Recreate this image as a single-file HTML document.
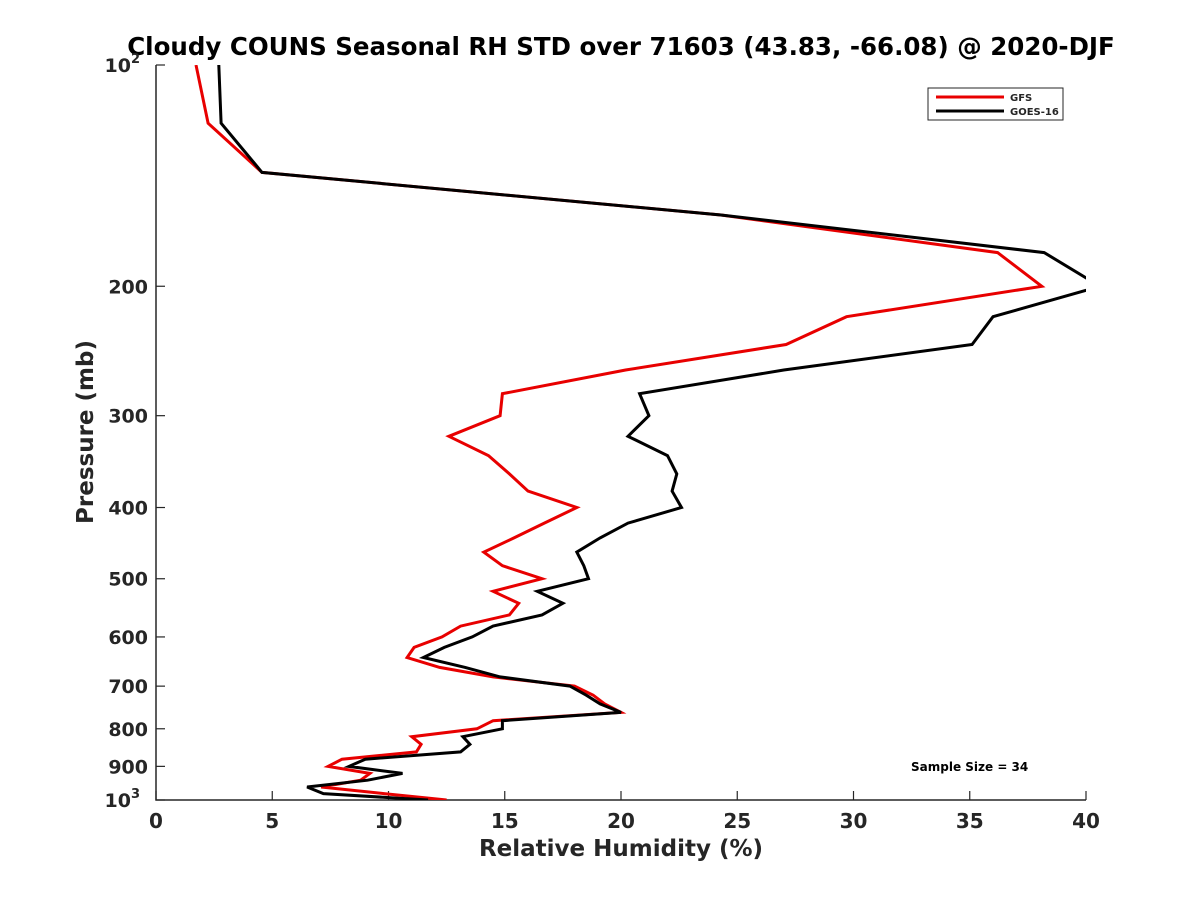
<!DOCTYPE html>
<html><head><meta charset="utf-8"><style>
body{margin:0;background:#fff;}
svg text{font-family:"DejaVu Sans","Liberation Sans",sans-serif;font-weight:bold;fill:#262626;}
</style></head><body>
<svg id="chart" width="1200" height="900" viewBox="0 0 1200 900" xmlns="http://www.w3.org/2000/svg">
<rect width="1200" height="900" fill="#fff"/>
<text x="621" y="55" text-anchor="middle" font-size="24.5" style="fill:#000">Cloudy COUNS Seasonal RH STD over 71603 (43.83, -66.08) @ 2020-DJF</text>
<defs><clipPath id="plotclip"><rect x="156" y="65" width="930" height="735"/></clipPath></defs>
<g id="axes"></g>
<g id="series" clip-path="url(#plotclip)"></g>
<g>
<rect x="928" y="88" width="135" height="32" fill="#fff" stroke="#262626" stroke-width="1"/>
<line x1="936" y1="97" x2="1004" y2="97" stroke="#e80000" stroke-width="3"/>
<text x="1010" y="101" font-size="10">GFS</text>
<line x1="936" y1="111" x2="1004" y2="111" stroke="#000" stroke-width="3"/>
<text x="1010" y="115" font-size="10">GOES-16</text>
</g>
<text x="911" y="771" font-size="12" style="fill:#000">Sample Size = 34</text>
<text x="621" y="856" text-anchor="middle" font-size="23">Relative Humidity (%)</text>
<text transform="translate(93,432) rotate(-90)" text-anchor="middle" font-size="23">Pressure (mb)</text>
</svg>
<script>
const pressures=[100,120,140,160,180,200,220,240,260,280,300,320,340,360,380,400,420,440,460,480,500,520,540,560,580,600,620,640,660,680,700,720,740,760,780,800,820,840,860,880,900,920,940,960,980,1000];
const gfsValues=[1.72,2.24,4.56,24.3,36.2,38.1,29.7,27.1,20.2,14.9,14.8,12.6,14.3,15.2,16.0,18.1,16.7,15.4,14.1,14.9,16.6,14.5,15.6,15.2,13.1,12.3,11.1,10.8,12.2,14.5,18.0,18.8,19.3,20.0,14.5,13.8,11.0,11.4,11.2,8.0,7.4,9.2,8.8,7.1,9.8,12.5];
const goesValues=[2.7,2.8,4.56,24.3,38.2,40.6,36.0,35.1,27.0,20.8,21.2,20.3,22.0,22.4,22.2,22.6,20.3,19.1,18.1,18.4,18.6,16.4,17.5,16.6,14.5,13.6,12.4,11.5,13.3,14.8,17.8,18.5,19.1,20.0,14.9,14.9,13.2,13.5,13.1,9.0,8.3,10.6,9.1,6.5,7.2,11.7];
const xTicks=[0,5,10,15,20,25,30,35,40];
const yTicks=[100,200,300,400,500,600,700,800,900,1000];
const yTickLabels=["10²","200","300","400","500","600","700","800","900","10³"];
const X0=156,X1=1086,Y0=65,Y1=800;
function xs(v){return X0+(v-0)/40*(X1-X0);}
function ys(p){return Y0+Math.log10(p/100)*(Y1-Y0);}
const NS="http://www.w3.org/2000/svg";
const axes=document.getElementById('axes');
function mk(tag,attrs,parent){const e=document.createElementNS(NS,tag);for(const k in attrs)e.setAttribute(k,attrs[k]);parent.appendChild(e);return e;}
const ax=mk('path',{d:`M${X0},${Y0}V${Y1}H${X1}`,fill:'none',stroke:'#262626','stroke-width':1.5},axes);


xTicks.forEach(t=>{
  const x=xs(t);
  const l=mk('line',{x1:x,y1:Y1,x2:x,y2:Y1-9,stroke:'#262626','stroke-width':1.2},axes);
  
  
  const tx=mk('text',{x:x,y:Y1+28,'text-anchor':'middle','font-size':20},axes);
  tx.textContent=t;
  
  
});
yTicks.forEach((t,i)=>{
  const y=ys(t);
  const l=mk('line',{x1:X0,y1:y,x2:X0+9,y2:y,stroke:'#262626','stroke-width':1.2},axes);
  
  
  const lab=yTickLabels[i];
  const tx=mk('text',{x:X0-8,y:y+7,'text-anchor':'end','font-size':19},axes);
  if(lab.startsWith('10')&&lab.length===3){
    tx.textContent='10';
    const sp=mk('tspan',{'font-size':13,dy:-9},tx);
    sp.textContent=lab==='10²'?'2':'3';
    tx.setAttribute('x',X0-16);
  } else tx.textContent=lab;
  
  
});
const series=document.getElementById('series');
function line(vals,color,name){
  const d=vals.map((v,i)=>(i?'L':'M')+xs(v).toFixed(1)+','+ys(pressures[i]).toFixed(1)).join('');
  const p=mk('path',{d:d,fill:'none',stroke:color,'stroke-width':3,'stroke-linejoin':'miter'},series);
  
  
}
line(gfsValues,'#e80000','gfs-line');
line(goesValues,'#000','goes16-line');
</script>
</body></html>
